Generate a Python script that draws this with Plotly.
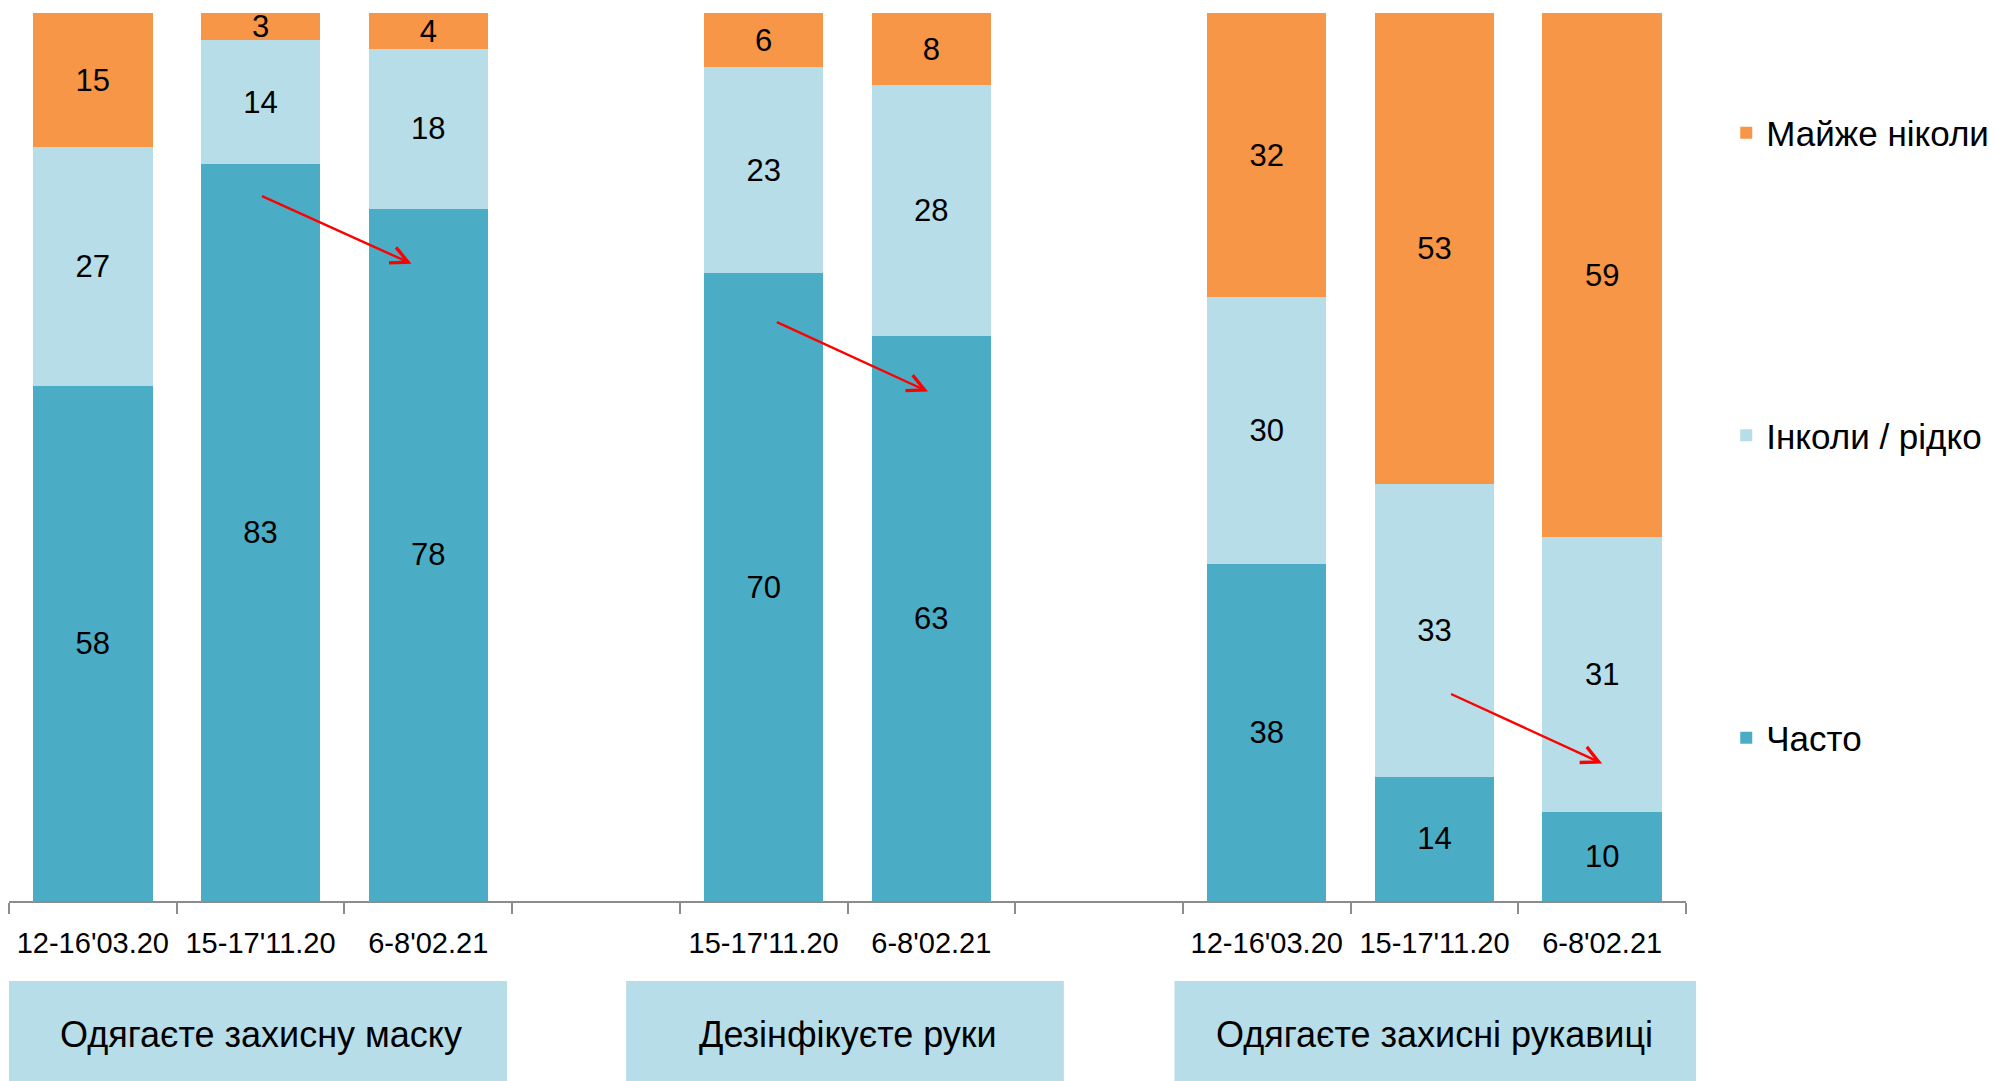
import plotly.graph_objects as go

# ---------------- data ----------------
positions = [0, 1, 2, 4, 5, 7, 8, 9]          # slots 3 and 6 are empty gaps
dates = ["12-16'03.20", "15-17'11.20", "6-8'02.21",
         "15-17'11.20", "6-8'02.21",
         "12-16'03.20", "15-17'11.20", "6-8'02.21"]
often = [58, 83, 78, 70, 63, 38, 14, 10]
sometimes = [27, 14, 18, 23, 28, 30, 33, 31]
never = [15, 3, 4, 6, 8, 32, 53, 59]
series_names = ["Часто", "Інколи / рідко", "Майже ніколи"]
legend_ranks = [3, 2, 1]

groups = ["Одягаєте захисну маску", "Дезінфікуєте руки", "Одягаєте захисні рукавиці"]
group_centers = [1.0, 4.5, 8.0]
group_spans = [(-0.5, 2.47), (3.18, 5.79), (6.45, 9.56)]

# arrows: (tail x, tail y, head x, head y) in axis units
arrows = [(1.0, 79.5, 1.9, 71.8), (4.07, 65.3, 4.98, 57.4), (8.09, 23.4, 9.0, 15.5)]

colors = ["#4BACC6", "#B7DDE8", "#F79646"]
FONT = "Liberation Sans, Arial, sans-serif"

fig = go.Figure()
for name, vals, col, rk in zip(series_names, [often, sometimes, never], colors, legend_ranks):
    fig.add_trace(go.Bar(
        x=positions, y=vals, name=name, marker_color=col,
        marker_line_width=0,
        text=[str(v) for v in vals], textposition="inside",
        insidetextanchor="middle", textangle=0,
        textfont=dict(family=FONT, size=31, color="black"),
        legendgroup=name, legendrank=rk,
    ))

boundaries = [i - 0.5 for i in range(11)]

fig.update_layout(
    width=1987, height=1073,
    barmode="stack", barnorm="percent", bargap=0.288,
    paper_bgcolor="white", plot_bgcolor="white",
    margin=dict(l=1, r=307, t=5, b=180),
    uniformtext=dict(mode="show", minsize=31),
    showlegend=True,
    legend=dict(
        x=1.024, y=0.898, xanchor="left", yanchor="top",
        traceorder="grouped", tracegroupgap=254,
        font=dict(family=FONT, size=35, color="black"),
        bgcolor="rgba(0,0,0,0)",
    ),
    xaxis=dict(
        range=[-0.5, 9.5], tickmode="array", tickvals=positions, ticktext=dates,
        ticks="", showline=True, linecolor="#8C8C8C", linewidth=2,
        showgrid=False, zeroline=False, tickangle=0,
        tickfont=dict(family=FONT, size=29, color="black"),
        ticklabelstandoff=15,
        minor=dict(tickmode="array", tickvals=boundaries, ticks="outside",
                   ticklen=11, tickcolor="#8C8C8C", tickwidth=2, showgrid=False),
    ),
    yaxis=dict(range=[0, 100.05], visible=False, showgrid=False),
)

for (x0, x1), label, cx in zip(group_spans, groups, group_centers):
    fig.add_shape(type="rect", xref="paper", yref="paper",
                  x0=(x0 + 0.5) / 10, x1=(x1 + 0.5) / 10, y0=-0.21, y1=-0.090,
                  fillcolor="#B7DDE8", line_width=0, layer="below")
    fig.add_annotation(x=cx, y=-0.150, xref="x", yref="paper", text=label,
                       showarrow=False, xanchor="center", yanchor="middle",
                       font=dict(family=FONT, size=36, color="black"))

for tx, ty, hx, hy in arrows:
    fig.add_annotation(x=hx, y=hy, ax=tx, ay=ty, xref="x", yref="y",
                       axref="x", ayref="y", text="", showarrow=True,
                       arrowhead=5, arrowsize=1.4, arrowwidth=2.4,
                       arrowcolor="#FF0000", standoff=0)

fig.write_html("out.html")
